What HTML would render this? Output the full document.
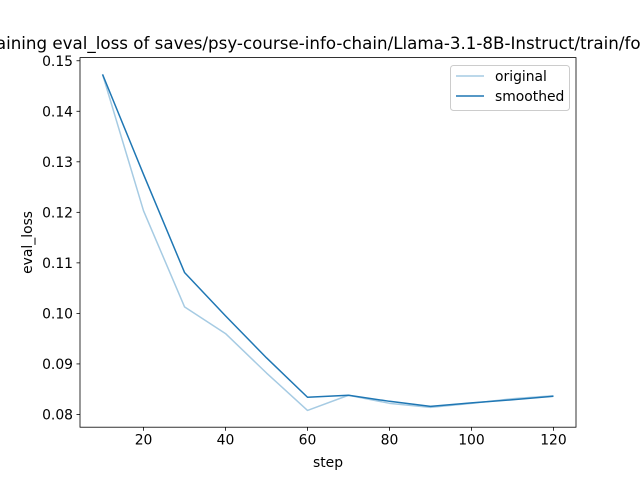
<!DOCTYPE html>
<html><head><meta charset="utf-8"><style>
body{margin:0;background:#fff}
svg{display:block;font-family:"DejaVu Sans","Liberation Sans",sans-serif}
</style></head><body>
<svg width="640" height="480" viewBox="0 0 640 480">
<rect width="640" height="480" fill="#fff"/>
<text x="328" y="49" text-anchor="middle" font-size="16.7">Training eval_loss of saves/psy-course-info-chain/Llama-3.1-8B-Instruct/train/fold_0</text>
<g id="axes"></g>
</svg>
<script>
const steps=[10,20,30,40,50,60,70,80,90,100,110,120];
const original=[0.1473,0.1203,0.1013,0.0960,0.0882,0.0808,0.0838,0.0822,0.0814,0.0822,0.0831,0.0837];
const smoothed=[0.1473,0.1275,0.1081,0.0995,0.0912,0.0834,0.0838,0.0826,0.0816,0.0823,0.0829,0.0836];
const xTicks=[20,40,60,80,100,120];
const yTicks=[0.08,0.09,0.10,0.11,0.12,0.13,0.14,0.15];
const yTickLabels=["0.08","0.09","0.10","0.11","0.12","0.13","0.14","0.15"];

const L=80,R=576,T=57.6,B=427.2;
const all=original.concat(smoothed);
const ymin0=Math.min(...all),ymax0=Math.max(...all),ym=(ymax0-ymin0)*0.05;
const ymin=ymin0-ym,ymax=ymax0+ym;
const xmin0=Math.min(...steps),xmax0=Math.max(...steps),xm=(xmax0-xmin0)*0.05;
const xmin=xmin0-xm,xmax=xmax0+xm;
const X=v=>L+(v-xmin)/(xmax-xmin)*(R-L);
const Y=v=>B-(v-ymin)/(ymax-ymin)*(B-T);
const NS="http://www.w3.org/2000/svg";
const g=document.getElementById('axes');
function mk(tag,attrs){const e=document.createElementNS(NS,tag);for(const k in attrs)e.setAttribute(k,attrs[k]);g.appendChild(e);return e;}
xTicks.forEach(v=>{
  const t=mk('line',{x1:X(v),x2:X(v),y1:B,y2:B+3.5,stroke:'#000','stroke-width':0.8});
  
  
  const l=mk('text',{x:X(v),y:B+17.5,'text-anchor':'middle','font-size':13.9});
  l.textContent=v;
  
  
});
yTicks.forEach((v,i)=>{
  const t=mk('line',{x1:L-3.5,x2:L,y1:Y(v),y2:Y(v),stroke:'#000','stroke-width':0.8});
  
  
  const l=mk('text',{x:L-7,y:Y(v)+5,'text-anchor':'end','font-size':13.9});
  l.textContent=yTickLabels[i];
  
  
});
function line(vals,color,name){
  const p=mk('polyline',{points:vals.map((v,i)=>X(steps[i])+','+Y(v)).join(' '),fill:'none',stroke:color,'stroke-width':1.5,'stroke-linejoin':'round'});
  
  
}
line(original,'#a6cbe3','original-line');
line(smoothed,'#1f77b4','smoothed-line');
const fr=mk('rect',{x:L,y:T,width:R-L,height:B-T,fill:'none',stroke:'#000','stroke-width':0.8});


const xt=mk('text',{x:(L+R)/2,y:467,'text-anchor':'middle','font-size':13.9});
xt.textContent='step';


const yt=mk('text',{x:32,y:(T+B)/2,'text-anchor':'middle','font-size':13.9,transform:'rotate(-90 32 '+(T+B)/2+')'});
yt.textContent='eval_loss';


const lg=mk('rect',{x:450.5,y:65.5,width:119,height:45,rx:3,fill:'#fff','fill-opacity':0.8,stroke:'#ccc','stroke-width':1});


[['original','#a6cbe3',80],['smoothed','#1f77b4',100]].forEach(([n,c,y])=>{
  const s=mk('line',{x1:456,x2:484,y1:y-4,y2:y-4,stroke:c,'stroke-width':1.5});
  
  
  const t=mk('text',{x:495,y:y+1,'font-size':13.9});
  t.textContent=n;
  
  
});
</script>
</body></html>
